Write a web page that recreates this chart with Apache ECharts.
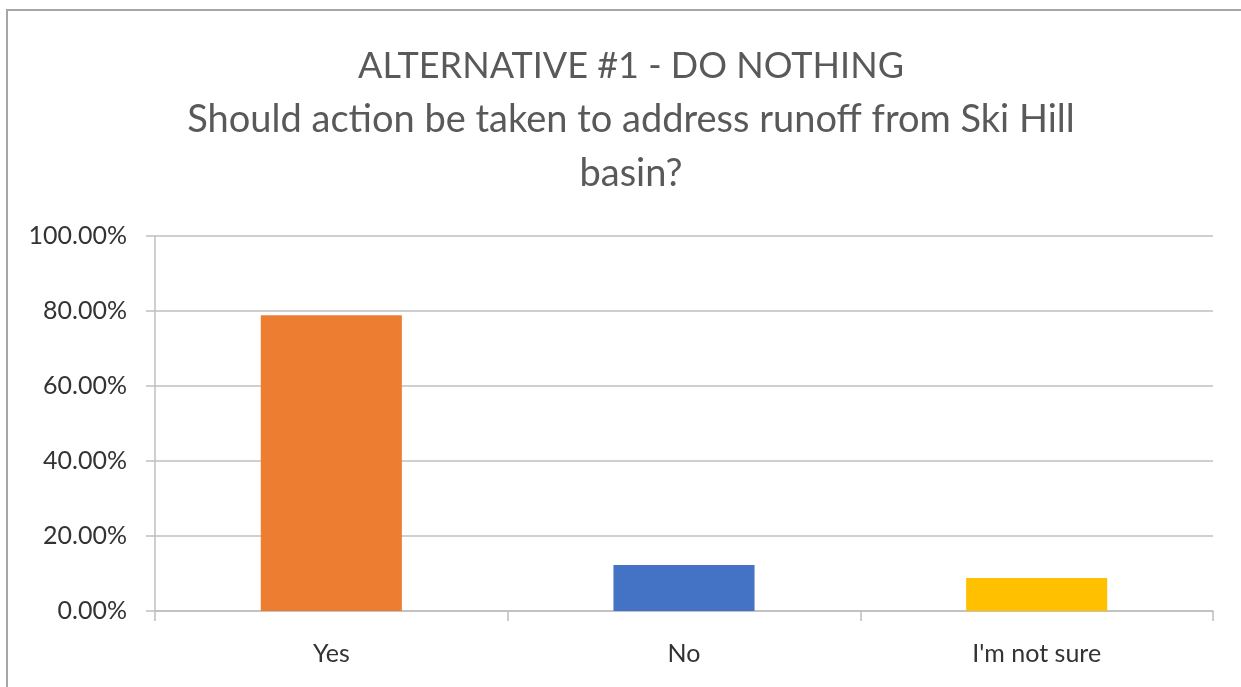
<!DOCTYPE html>
<html>
<head>
<meta charset="utf-8">
<script src="https://cdn.jsdelivr.net/npm/echarts@6/dist/echarts.min.js"></script>
<style>
html,body{margin:0;padding:0;background:#fff;}
#chart{width:1241px;height:687px;}
</style>
</head>
<body>
<div id="chart"></div>
<script>
const titleLines = ['ALTERNATIVE #1 - DO NOTHING', 'Should action be taken to address runoff from Ski Hill', 'basin?'];
const categories = ['Yes', 'No', "I'm not sure"];
const values = [78.9, 12.3, 8.8];
const yTicks = [0, 20, 40, 60, 80, 100];

const barColors = ['#ED7D31', '#4472C4', '#FFC000'];
const FONT = 'Lato';

const chart = echarts.init(document.getElementById('chart'), null, {renderer: 'canvas'});
chart.setOption({
  backgroundColor: '#ffffff',
  animation: false,
  title: {
    text: '{a|' + titleLines[0] + '}\n{b|' + titleLines[1] + '}\n{b|' + titleLines[2] + '}',
    left: 626,
    top: 34,
    textAlign: 'center',
    textStyle: {
      fontFamily: FONT,
      fontSize: 38,
      fontWeight: 'normal',
      color: '#595959',
      lineHeight: 54,
      rich: {
        a: {fontFamily: FONT, fontSize: 36, color: '#595959', lineHeight: 54},
        b: {fontFamily: FONT, fontSize: 38, color: '#595959', lineHeight: 54}
      }
    }
  },
  graphic: [
    {type: 'line', shape: {x1: 7, y1: 10, x2: 1241, y2: 10}, style: {stroke: '#a6a6a6', lineWidth: 2}, silent: true},
    {type: 'line', shape: {x1: 7, y1: 9, x2: 7, y2: 687}, style: {stroke: '#a6a6a6', lineWidth: 2}, silent: true}
  ],
  grid: {left: 155, right: 28, top: 236, bottom: 76, containLabel: false},
  xAxis: {
    type: 'category',
    data: categories,
    boundaryGap: true,
    axisLine: {show: true, lineStyle: {color: '#bfbfbf', width: 1.5}},
    axisTick: {show: true, alignWithLabel: false, interval: 0, length: 10, lineStyle: {color: '#bfbfbf', width: 1.5}},
    axisLabel: {fontFamily: FONT, fontSize: 25, color: '#333333', margin: 30, interval: 0}
  },
  yAxis: {
    type: 'value',
    min: yTicks[0],
    max: yTicks[yTicks.length - 1],
    interval: yTicks[1] - yTicks[0],
    axisLine: {show: true, lineStyle: {color: '#bfbfbf', width: 1.5}},
    axisTick: {show: true, length: 9, lineStyle: {color: '#bfbfbf', width: 1.5}},
    splitLine: {show: true, lineStyle: {color: '#bfbfbf', width: 1.5}},
    axisLabel: {
      fontFamily: FONT, fontSize: 25, color: '#333333', margin: 28,
      formatter: v => v.toFixed(2) + '%'
    }
  },
  series: [{
    type: 'bar',
    data: values.map((v, i) => ({value: v, itemStyle: {color: barColors[i]}})),
    barWidth: '40%'
  }]
});
</script>
</body>
</html>
